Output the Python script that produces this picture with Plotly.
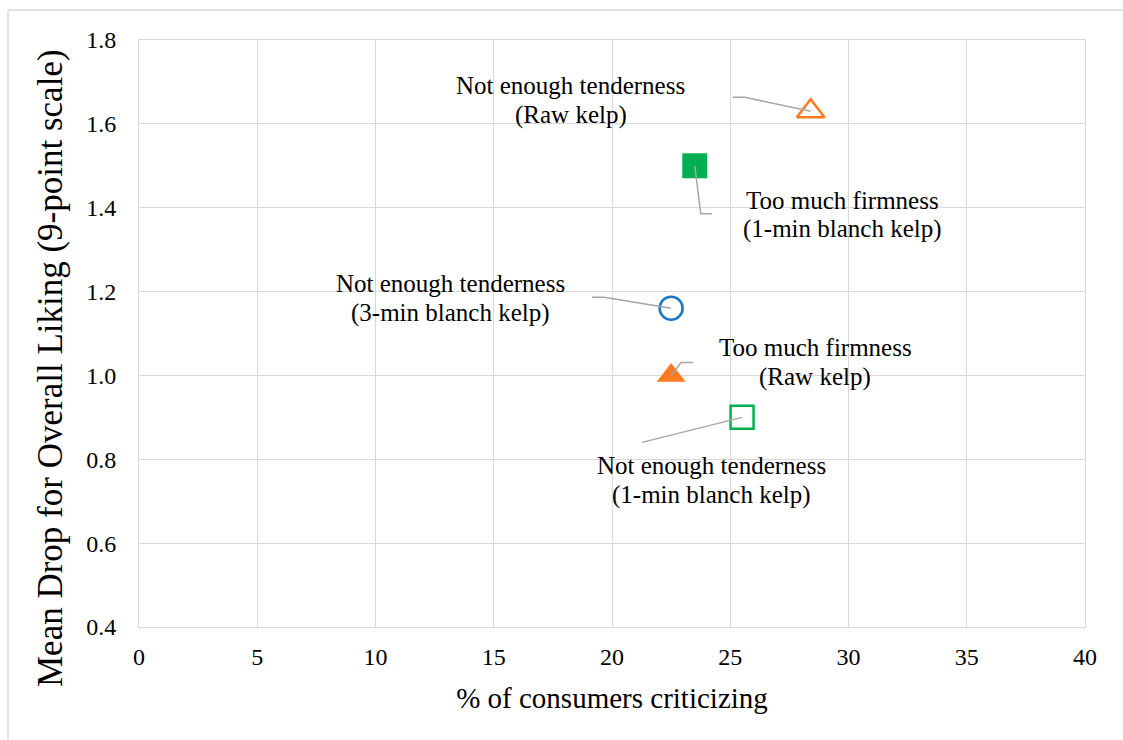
import plotly.graph_objects as go

# Data
label_lines = [
    ["Not enough tenderness", "(Raw kelp)"],
    ["Too much firmness", "(1-min blanch kelp)"],
    ["Not enough tenderness", "(3-min blanch kelp)"],
    ["Too much firmness", "(Raw kelp)"],
    ["Not enough tenderness", "(1-min blanch kelp)"],
]
pct_criticizing = [28.4, 23.5, 22.5, 22.5, 25.5]
mean_drop = [1.63, 1.50, 1.16, 1.00, 0.90]

x_ticks = [0, 5, 10, 15, 20, 25, 30, 35, 40]
y_ticks = [0.4, 0.6, 0.8, 1.0, 1.2, 1.4, 1.6, 1.8]
x_title = "% of consumers criticizing"
y_title = "Mean Drop for Overall Liking (9-point scale)"

# Styles
symbols = ["triangle-up-open", "square", "circle-open", "triangle-up", "square-open"]
colors = ["#FF7A1F", "#00B050", "#1A75C8", "#FF7A1F", "#00B050"]
sizes = [24, 25, 23, 25, 23]
# label center offset from marker (px, plotly yshift up positive)
text_shift = [(-240, 11), (148, -49), (-221, 10), (144, 13), (-31, -63)]
line_gap = 29
# leader line polyline in px offsets from marker (screen coords, y down)
leader_px = [
    [(0, 0), (-66, -14), (-78, -14)],
    [(0, 0), (6, 48), (17, 48)],
    [(0, 0), (-67, -11), (-79, -11)],
    [(0, 0), (10, -13), (22, -13)],
    [(0, 0), (-100, 25)],
]

L, R, T, B = 139, 38, 40, 113
W, H = 1123, 740
pw, ph = W - L - R, H - T - B
xr, yr = [0, 40], [0.4, 1.8]
def dx(px):
    return px * (xr[1] - xr[0]) / pw
def dy(py):
    return -py * (yr[1] - yr[0]) / ph

SERIF = "Liberation Serif, Times New Roman, serif"
fig = go.Figure()
for i in range(len(label_lines)):
    is_open = "open" in symbols[i]
    fig.add_trace(go.Scatter(
        x=[pct_criticizing[i]], y=[mean_drop[i]], mode="markers",
        marker=dict(symbol=symbols[i], size=sizes[i], color=colors[i],
                    line=dict(color=colors[i], width=2.5 if is_open else 0)),
        showlegend=False, cliponaxis=False, hoverinfo="skip",
    ))
    pts = [(pct_criticizing[i] + dx(a), mean_drop[i] + dy(b)) for a, b in leader_px[i]]
    path = "M " + " L ".join(f"{px},{py}" for px, py in pts)
    fig.add_shape(type="path", path=path, xref="x", yref="y",
                  line=dict(color="#A6A6A6", width=1.5), layer="above")
    n = len(label_lines[i])
    for k, line in enumerate(label_lines[i]):
        off = ((n - 1) / 2 - k) * line_gap
        fig.add_annotation(x=pct_criticizing[i], y=mean_drop[i], text=line,
                           showarrow=False, xshift=text_shift[i][0],
                           yshift=text_shift[i][1] + off,
                           font=dict(family=SERIF, size=25, color="#000000"),
                           xanchor="center", yanchor="middle", align="center")

# y-axis title (placed like the original, slightly below plot centre)
fig.add_annotation(xref="paper", yref="paper", x=(50 - L) / pw, y=1 - (368 - T) / ph,
                   text=y_title, textangle=-90, showarrow=False,
                   xanchor="center", yanchor="middle",
                   font=dict(family=SERIF, size=35, color="#000000"))

# outer chart border (top and left)
fig.add_shape(type="line", xref="paper", yref="paper",
              x0=(8 - L) / pw, x1=(W - L) / pw, y0=1 + (T - 10) / ph, y1=1 + (T - 10) / ph,
              line=dict(color="#D9D9D9", width=1.5))
fig.add_shape(type="line", xref="paper", yref="paper",
              x0=(8 - L) / pw, x1=(8 - L) / pw, y0=1 + (T - 10) / ph, y1=-B / ph,
              line=dict(color="#D9D9D9", width=1.5))

font = dict(family=SERIF, color="#000000")
fig.update_xaxes(range=xr, tickvals=x_ticks, ticktext=[str(v) for v in x_ticks],
                 showgrid=True, gridcolor="#D9D9D9", gridwidth=1,
                 showline=True, linecolor="#D9D9D9", linewidth=1, mirror=True,
                 zeroline=False, ticks="", tickfont=dict(size=24, **font),
                 ticklabelstandoff=8,
                 title=dict(text=x_title, font=dict(size=29, **font), standoff=18))
fig.update_yaxes(range=yr, tickvals=y_ticks, ticktext=[f"{v:.1f}" for v in y_ticks],
                 showgrid=True, gridcolor="#D9D9D9", gridwidth=1,
                 showline=True, linecolor="#D9D9D9", linewidth=1, mirror=True,
                 zeroline=False, ticks="", tickfont=dict(size=24, **font),
                 ticklabelstandoff=17)
fig.update_layout(width=W, height=H, margin=dict(l=L, r=R, t=T, b=B, autoexpand=False),
                  plot_bgcolor="white", paper_bgcolor="white", hovermode=False)
fig.write_html("out.html", config={"displayModeBar": False},
               post_script="document.body.style.margin='0';")
